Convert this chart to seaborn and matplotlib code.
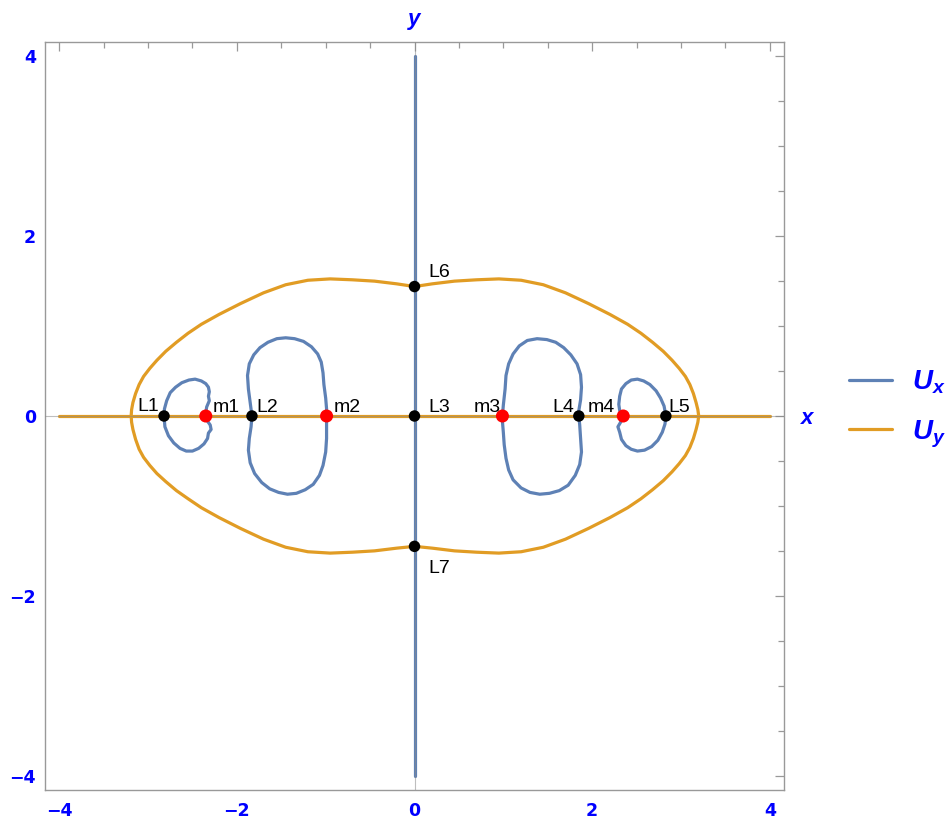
import matplotlib
matplotlib.use("Agg")
import matplotlib.pyplot as plt
from matplotlib.lines import Line2D
from matplotlib.ticker import MultipleLocator
import pandas as pd
import seaborn as sns

# ---------------------------------------------------------------
# Zero-velocity curves of the collinear four-body problem:
#   U_x = 0 (blue) and U_y = 0 (orange), primaries m1..m4, points L1..L7
# ---------------------------------------------------------------

plot_range = [-4.0, 4.0]

# U_y = 0 : outer oval, upper branch (left -> right) and lower branch
oval_x = [-3.19, -3.185, -3.17, -3.14, -3.10, -3.05, -2.98, -2.90, -2.80, -2.68,
          -2.55, -2.40, -2.20, -1.96, -1.70, -1.45, -1.20, -0.95, -0.70, -0.45,
          -0.20, 0.00, 0.20, 0.45, 0.70, 0.95, 1.20, 1.45, 1.70, 1.96,
          2.20, 2.40, 2.55, 2.68, 2.80, 2.90, 2.98, 3.05, 3.10, 3.14,
          3.17, 3.19, 3.20]
oval_upper_y = [0.00, 0.07, 0.15, 0.25, 0.35, 0.44, 0.53, 0.62, 0.72, 0.82,
                0.92, 1.02, 1.13, 1.25, 1.37, 1.46, 1.51, 1.525, 1.515, 1.50,
                1.47, 1.44, 1.47, 1.50, 1.515, 1.525, 1.51, 1.46, 1.37, 1.25,
                1.13, 1.02, 0.92, 0.82, 0.72, 0.62, 0.53, 0.44, 0.35, 0.25,
                0.15, 0.07, 0.00]
oval_lower_y = [0.00, -0.07, -0.15, -0.26, -0.37, -0.46, -0.55, -0.64, -0.73, -0.83,
                -0.92, -1.02, -1.13, -1.25, -1.37, -1.46, -1.51, -1.525, -1.515, -1.50,
                -1.47, -1.45, -1.47, -1.50, -1.515, -1.525, -1.51, -1.46, -1.37, -1.25,
                -1.13, -1.02, -0.92, -0.82, -0.72, -0.62, -0.53, -0.44, -0.35, -0.25,
                -0.15, -0.07, 0.00]

# U_x = 0 : closed loops around the primaries
loop_a_x = [-2.82, -2.815, -2.79, -2.75, -2.69, -2.62, -2.54, -2.47, -2.40, -2.35,
            -2.32, -2.31, -2.32, -2.31, -2.34, -2.35, -2.35, -2.30, -2.29, -2.32,
            -2.33, -2.37, -2.43, -2.50, -2.57, -2.64, -2.71, -2.77, -2.81, -2.82]
loop_a_y = [0.00, 0.08, 0.17, 0.26, 0.32, 0.37, 0.40, 0.41, 0.39, 0.36,
            0.32, 0.27, 0.22, 0.17, 0.10, 0.03, -0.03, -0.10, -0.15, -0.19,
            -0.25, -0.31, -0.36, -0.39, -0.39, -0.36, -0.30, -0.22, -0.12, 0.00]

loop_b_x = [-1.83, -1.85, -1.87, -1.88, -1.86, -1.81, -1.74, -1.65, -1.55, -1.45,
            -1.35, -1.25, -1.16, -1.09, -1.05, -1.03, -1.02, -1.00, -0.99, -0.99,
            -0.99, -0.99, -1.00, -1.03, -1.07, -1.14, -1.23, -1.33, -1.43, -1.53,
            -1.63, -1.72, -1.80, -1.85, -1.87, -1.86, -1.84, -1.83]
loop_b_y = [0.00, 0.15, 0.30, 0.45, 0.58, 0.68, 0.76, 0.82, 0.86, 0.87,
            0.86, 0.83, 0.77, 0.69, 0.60, 0.48, 0.35, 0.20, 0.08, 0.00,
            -0.10, -0.25, -0.40, -0.55, -0.66, -0.76, -0.82, -0.86, -0.87, -0.85,
            -0.81, -0.74, -0.64, -0.52, -0.38, -0.25, -0.12, 0.00]

loop_c_x = [0.99, 1.00, 1.02, 1.03, 1.06, 1.11, 1.18, 1.27, 1.38, 1.49,
            1.59, 1.68, 1.76, 1.83, 1.87, 1.88, 1.87, 1.85, 1.85, 1.86,
            1.87, 1.88, 1.86, 1.81, 1.73, 1.63, 1.52, 1.41, 1.30, 1.20,
            1.11, 1.06, 1.03, 1.01, 1.00, 0.99, 0.99]
loop_c_y = [0.00, 0.12, 0.30, 0.45, 0.58, 0.69, 0.78, 0.84, 0.86, 0.85,
            0.82, 0.76, 0.68, 0.58, 0.46, 0.32, 0.18, 0.06, 0.00, -0.10,
            -0.25, -0.40, -0.54, -0.66, -0.77, -0.83, -0.86, -0.87, -0.85, -0.80,
            -0.71, -0.60, -0.47, -0.32, -0.18, -0.06, 0.00]

loop_d_x = [2.35, 2.31, 2.30, 2.31, 2.33, 2.38, 2.44, 2.51, 2.58, 2.65,
            2.72, 2.77, 2.81, 2.83, 2.82, 2.79, 2.74, 2.67, 2.59, 2.51,
            2.44, 2.38, 2.33, 2.31, 2.29, 2.32, 2.35]
loop_d_y = [0.00, 0.06, 0.13, 0.22, 0.30, 0.36, 0.40, 0.41, 0.39, 0.35,
            0.28, 0.20, 0.11, 0.00, -0.09, -0.18, -0.27, -0.34, -0.38, -0.39,
            -0.37, -0.33, -0.26, -0.18, -0.12, -0.07, 0.00]

# primaries
mass_names = ["m1", "m2", "m3", "m4"]
mass_x = [-2.35, -0.99, 0.99, 2.35]
mass_y = [0.0, 0.0, 0.0, 0.0]

# equilibrium points
lag_names = ["L1", "L2", "L3", "L4", "L5", "L6", "L7"]
lag_x = [-2.82, -1.83, 0.00, 1.85, 2.83, 0.00, 0.00]
lag_y = [0.00, 0.00, 0.00, 0.00, 0.00, 1.44, -1.45]

tick_values = [-4, -2, 0, 2, 4]
legend_labels = [r"$U_x$", r"$U_y$"]

BLUE = "#5E81B5"
ORANGE = "#E19C24"
FRAME = "#999999"
TEXT_BLUE = "#0000FF"

sns.set_theme(style="white")
plt.rcParams["font.family"] = ["Liberation Sans", "DejaVu Sans"]
plt.rcParams["mathtext.fontset"] = "custom"
plt.rcParams["mathtext.it"] = "Liberation Sans:italic:bold"
plt.rcParams["mathtext.rm"] = "Liberation Sans:bold"
plt.rcParams["mathtext.bf"] = "Liberation Sans:bold"

fig = plt.figure(figsize=(9.47, 8.22), dpi=100)
ax = fig.add_axes([45 / 947, 32 / 822, 739 / 947, 748 / 822])

LW = 2.3


def curve(xs, ys, color):
    df = pd.DataFrame({"x": xs, "y": ys})
    sns.lineplot(data=df, x="x", y="y", sort=False, estimator=None,
                 color=color, lw=LW, ax=ax, zorder=2)


# U_y = 0 : the x axis and the oval
curve(plot_range, [0.0, 0.0], ORANGE)
curve(oval_x, oval_upper_y, ORANGE)
curve(oval_x, oval_lower_y, ORANGE)

# U_x = 0 : the y axis and the four loops
curve([0.0, 0.0], plot_range, BLUE)
for lx, ly in [(loop_a_x, loop_a_y), (loop_b_x, loop_b_y),
               (loop_c_x, loop_c_y), (loop_d_x, loop_d_y)]:
    curve(lx, ly, BLUE)

# coordinate axes through the origin
ax.axhline(0, color="#8a8a8a", lw=0.8, alpha=0.55, zorder=3)
ax.axvline(0, color="#8a8a8a", lw=0.8, alpha=0.55, zorder=3)

# points
sns.scatterplot(x=lag_x, y=lag_y, color="black", s=68, edgecolor="none",
                ax=ax, zorder=5)
sns.scatterplot(x=mass_x, y=mass_y, color="#FF0000", s=88, edgecolor="none",
                ax=ax, zorder=6)

# point labels: (dx, dy) in pixels, horizontal alignment, vertical alignment
px = 0.72
label_style = {
    "L1": (-5, 5, "right", "baseline"),
    "L2": (4, 4, "left", "baseline"),
    "L3": (14, 4, "left", "baseline"),
    "L4": (-5, 4, "right", "baseline"),
    "L5": (3, 4, "left", "baseline"),
    "L6": (14, 10, "left", "baseline"),
    "L7": (14, -27, "left", "baseline"),
    "m1": (7, 4, "left", "baseline"),
    "m2": (7, 4, "left", "baseline"),
    "m3": (-2, 4, "right", "baseline"),
    "m4": (-8, 4, "right", "baseline"),
}
for name, x, y in list(zip(lag_names, lag_x, lag_y)) + list(zip(mass_names, mass_x, mass_y)):
    dx, dy, ha, va = label_style[name]
    ax.annotate(name, xy=(x, y), xytext=(dx * px, dy * px), textcoords="offset points",
                ha=ha, va=va, fontsize=14, color="black", zorder=7)

# frame, ticks
ax.set_xlim(-4.16, 4.16)
ax.set_ylim(-4.16, 4.16)
ax.set_xticks(tick_values)
ax.set_yticks(tick_values)
ax.set_xticklabels([str(v).replace("-", "\u2212") for v in tick_values])
ax.set_yticklabels([str(v).replace("-", "\u2212") for v in tick_values])
ax.xaxis.set_minor_locator(MultipleLocator(0.5))
ax.yaxis.set_minor_locator(MultipleLocator(0.5))
ax.tick_params(which="both", direction="in", top=True, right=True,
               color=FRAME, width=0.9)
ax.tick_params(which="major", length=6.5)
ax.tick_params(which="minor", length=4)
ax.tick_params(axis="x", which="major", pad=8.5)
ax.tick_params(axis="y", which="major", pad=6.5)
for lbl in ax.get_xticklabels() + ax.get_yticklabels():
    lbl.set_color(TEXT_BLUE)
    lbl.set_fontfamily("DejaVu Sans")
    lbl.set_fontweight("bold")
    lbl.set_fontsize(12.5)
for sp in ax.spines.values():
    sp.set_visible(True)
    sp.set_color(FRAME)
    sp.set_linewidth(1.0)
ax.set_xlabel("")
ax.set_ylabel("")
ax.grid(False)

# axis names
ax.annotate("y", xy=(0, 1), xycoords=("data", "axes fraction"), xytext=(0, 16),
            textcoords="offset points", ha="center", va="center",
            fontsize=16, fontweight="bold", fontstyle="italic", color=TEXT_BLUE)
ax.annotate("x", xy=(1, 0), xycoords=("axes fraction", "data"), xytext=(17, -2),
            textcoords="offset points", ha="center", va="center",
            fontsize=16, fontweight="bold", fontstyle="italic", color=TEXT_BLUE)

# legend
handles = [Line2D([], [], color=BLUE, lw=LW), Line2D([], [], color=ORANGE, lw=LW)]
fig.legend(handles, legend_labels, loc="center left",
           bbox_to_anchor=(849 / 947, 1 - 409 / 822), frameon=False,
           fontsize=20, handlelength=1.55, handletextpad=0.72, labelspacing=0.8,
           borderpad=0, borderaxespad=0, labelcolor=TEXT_BLUE)

fig.savefig("out.png", dpi=100)
